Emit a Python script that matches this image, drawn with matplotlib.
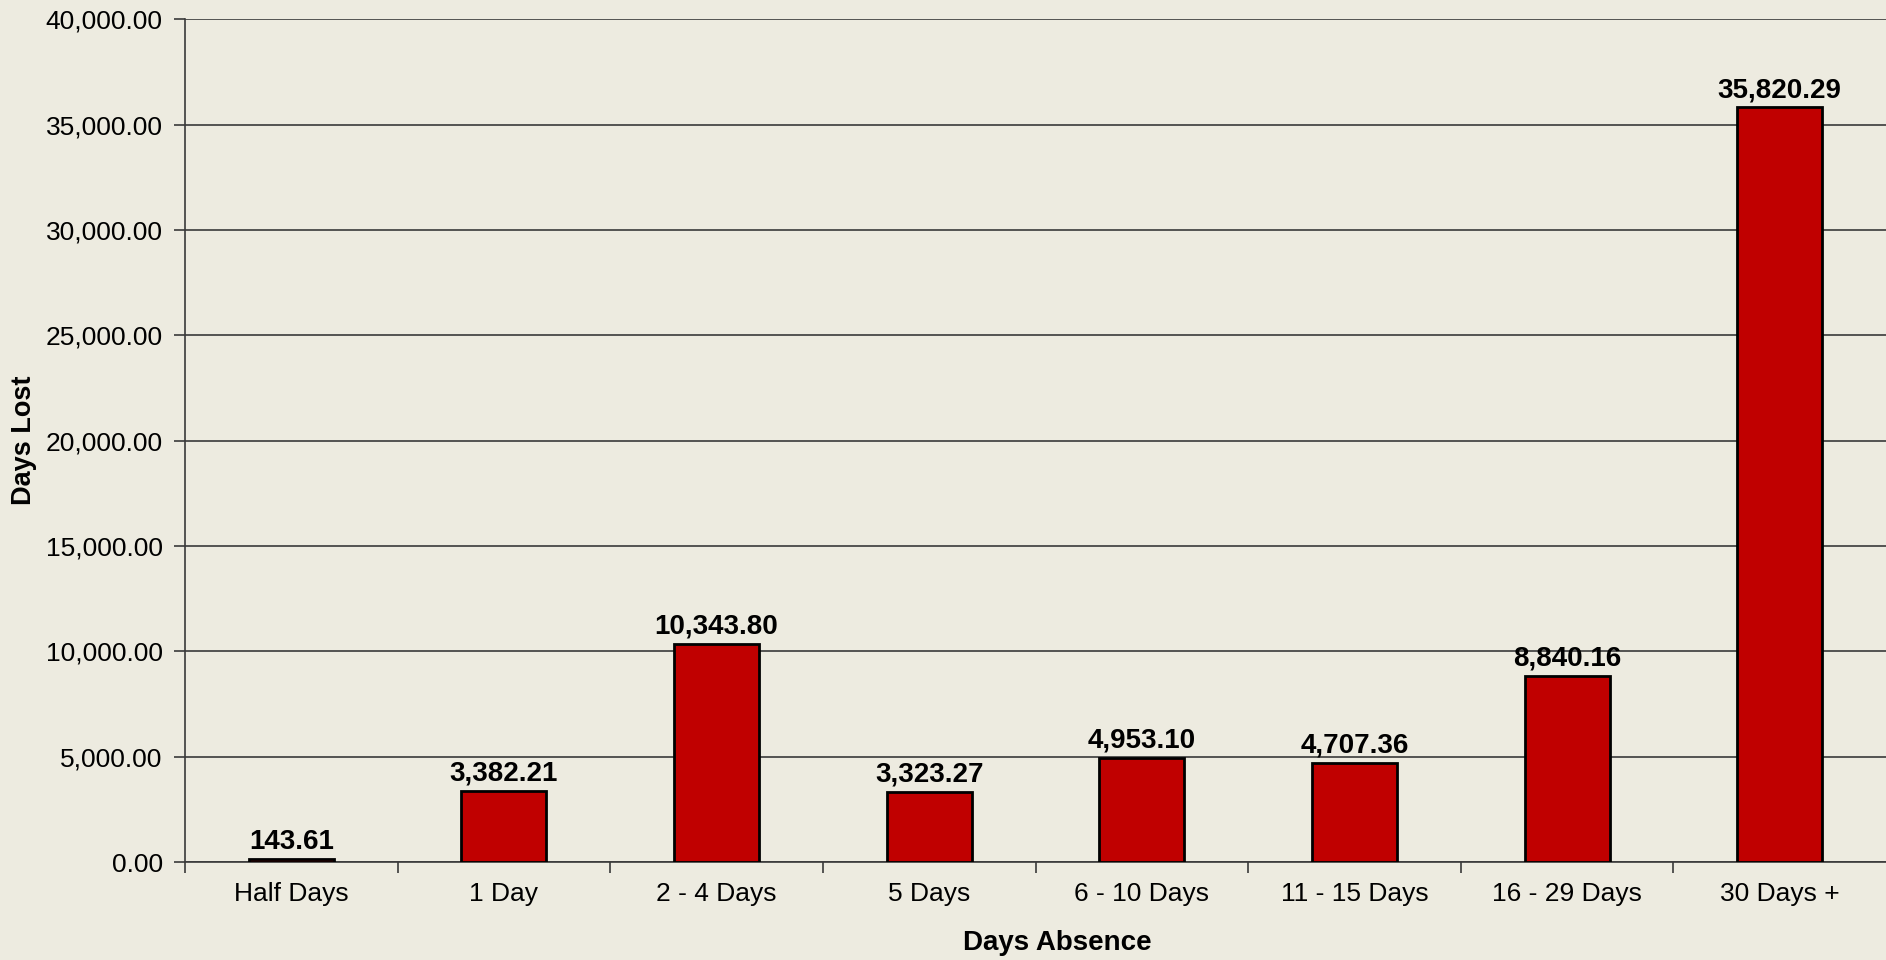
import matplotlib.pyplot as plt
from matplotlib.ticker import FuncFormatter, FixedLocator
import numpy as np

categories = ['Half Days', '1 Day', '2 - 4 Days', '5 Days', '6 - 10 Days',
              '11 - 15 Days', '16 - 29 Days', '30 Days +']
days_lost = [143.61, 3382.21, 10343.80, 3323.27, 4953.10, 4707.36, 8840.16, 35820.29]

plt.rcParams['font.family'] = ['Liberation Sans', 'DejaVu Sans']

bg = '#EDEBE0'
fig = plt.figure(figsize=(18.86, 9.6), dpi=100, facecolor=bg)
ax = fig.add_axes([0.0981, 0.102, 0.9019, 0.878])
ax.set_facecolor(bg)

x = np.arange(len(categories))
ax.bar(x, days_lost, width=0.4, color='#C00000', edgecolor='black', linewidth=2, zorder=3)

# value labels above each bar
for xi, v in zip(x, days_lost):
    ax.annotate(f'{v:,.2f}', (xi, v), xytext=(0, 3), textcoords='offset points',
                ha='center', va='bottom', fontsize=20, fontweight='bold', zorder=4)

ax.set_xlim(-0.5, len(categories) - 0.5)
ax.set_ylim(0, 40000)
ax.set_yticks(np.arange(0, 40001, 5000))
ax.yaxis.set_major_formatter(FuncFormatter(lambda v, p: f'{v:,.2f}'))
ax.grid(axis='y', color='#3a3a3a', linewidth=1.2, zorder=0)

ax.set_xticks(x)
ax.set_xticklabels(categories, fontsize=19)
ax.xaxis.set_minor_locator(FixedLocator(np.arange(-0.5, len(categories) - 0.5, 1.0)))
ax.tick_params(axis='x', which='major', length=0, pad=14)
ax.tick_params(axis='x', which='minor', length=8, width=1.2, color='#3a3a3a')
ax.tick_params(axis='y', labelsize=19, length=8, width=1.2, color='#3a3a3a', pad=8)

for side in ['top', 'right']:
    ax.spines[side].set_visible(False)
for side in ['left', 'bottom']:
    ax.spines[side].set_color('#3a3a3a')
    ax.spines[side].set_linewidth(1.2)

ax.set_ylabel('Days Lost', fontsize=19.5, fontweight='bold')
ax.yaxis.set_label_coords(-0.087, 0.5)
ax.set_xlabel('Days Absence', fontsize=20, fontweight='bold')
ax.xaxis.set_label_coords(0.513, -0.08)

fig.savefig('out.png', dpi=100, facecolor=bg)
